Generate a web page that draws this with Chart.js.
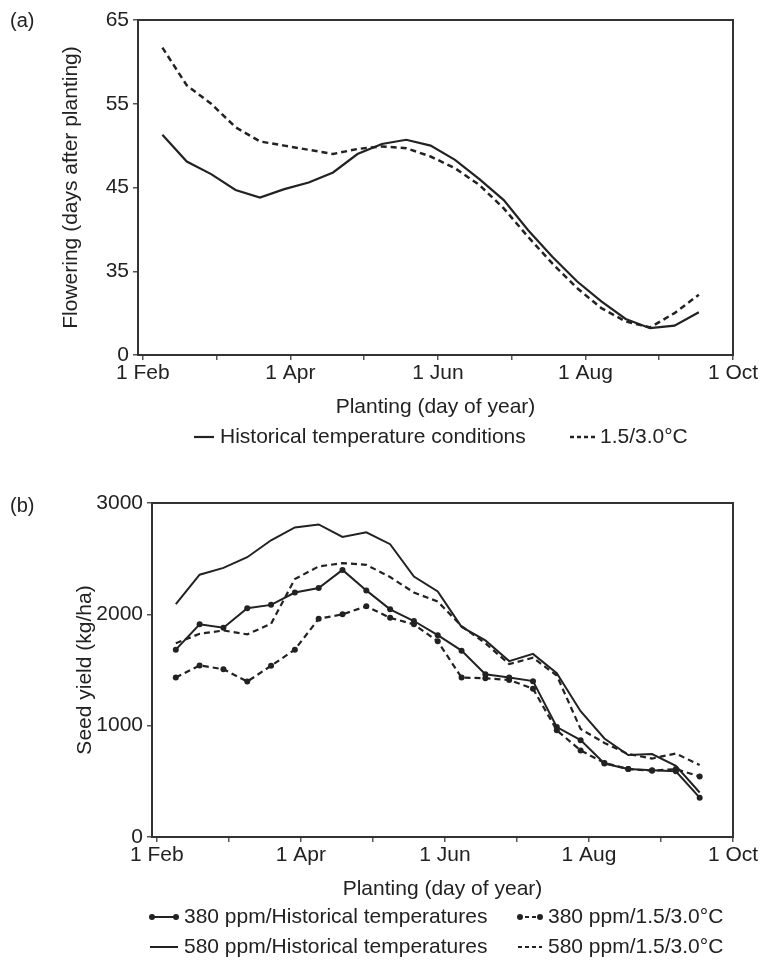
<!DOCTYPE html>
<html>
<head>
<meta charset="utf-8">
<script src="https://cdn.jsdelivr.net/npm/chart.js@4.4.1/dist/chart.umd.min.js"></script>
<style>
  html, body { margin: 0; padding: 0; background: #fff; }
  #wrap { position: relative; width: 764px; height: 967px; font-family: "Liberation Sans", Arial, sans-serif; }
  .panel { position: absolute; left: 0; width: 764px; }
  .tag { position: absolute; left: 10px; font-size: 20px; color: #222; }
</style>
</head>
<body>
<div id="wrap">
  <div class="panel" style="top:0;height:460px"><canvas id="flowering" width="764" height="460"></canvas></div>
  <div class="panel" style="top:460px;height:507px"><canvas id="yield" width="764" height="507"></canvas></div>
  <div class="tag" style="top:9px">(a)</div>
  <div class="tag" style="top:494px">(b)</div>
</div>
<script>
// planting dates, day of year
const plantingDay = [40, 50, 60, 70, 80, 90, 100, 110, 120, 130, 140, 150,
                     160, 170, 180, 190, 200, 210, 220, 230, 240, 250, 260];
const monthLabels = ['1 Feb', '', '1 Apr', '', '1 Jun', '', '1 Aug', '', '1 Oct'];

// (a) days to flowering
const floweringHist = [51.3, 48.1, 46.6, 44.7, 43.8, 44.8, 45.6, 46.8, 49.0, 50.2, 50.7, 50.0,
                       48.3, 46.0, 43.5, 39.9, 36.7, 33.8, 31.4, 29.3, 28.2, 28.5, 30.1];
const floweringWarm = [61.7, 57.2, 55.0, 52.2, 50.5, 50.0, 49.5, 49.0, 49.6, 49.9, 49.7, 48.7,
                       47.3, 45.3, 42.5, 39.1, 35.9, 33.0, 30.6, 29.0, 28.3, 30.0, 32.2];
// broken axis: the lowest tick stands for 0
const floweringTicks = [25, 35, 45, 55, 65];
const floweringTickLabels = ['0', '35', '45', '55', '65'];

// (b) seed yield, kg/ha
const yield380Hist = [1683, 1910, 1879, 2055, 2085, 2196, 2236, 2399, 2215, 2045, 1940, 1813,
                      1674, 1462, 1432, 1400, 988, 870, 660, 610, 600, 590, 353];
const yield380Warm = [1432, 1541, 1507, 1396, 1538, 1683, 1960, 2000, 2072, 1969, 1910, 1758,
                      1432, 1426, 1411, 1332, 958, 778, 665, 610, 595, 610, 544];
const yield580Hist = [2091, 2356, 2417, 2513, 2665, 2780, 2807, 2695, 2737, 2630, 2340, 2205,
                      1887, 1766, 1580, 1645, 1471, 1130, 885, 737, 745, 640, 400];
const yield580Warm = [1740, 1825, 1855, 1820, 1915, 2317, 2430, 2460, 2445, 2335, 2196, 2115,
                      1894, 1740, 1553, 1610, 1450, 970, 845, 745, 705, 750, 646];
const yieldTicks = [0, 1000, 2000, 3000];

const ink = '#222';
const font = { family: '"Liberation Sans", Arial, sans-serif', size: 21, lineHeight: 1.2 };
const DASH = [6, 4];

const pts = vals => vals.map((v, i) => ({ x: plantingDay[i], y: v }));

function line(label, vals, dashed, dots, width) {
    return {
        label: label,
        data: pts(vals),
        borderColor: ink,
        backgroundColor: ink,
        borderWidth: width,
        borderDash: dashed ? DASH : [],
        pointRadius: dots ? 3 : 0,
        pointBorderWidth: 0,
        tension: 0
    };
}

function xAxis() {
    return {
        type: 'linear', min: 30, max: 274,
        afterBuildTicks: s => { s.ticks = monthLabels.map((_, i) => ({ value: 32 + i * 30.25 })); },
        ticks: { callback: (v, i) => monthLabels[i], color: ink, font: font, padding: 1, maxRotation: 0, autoSkip: false },
        grid: { drawOnChartArea: false, tickLength: 5, color: '#555', lineWidth: 1.5 },
        border: { display: false },
        title: { display: true, text: 'Planting (day of year)', color: ink, font: font, padding: { top: 0, bottom: 5 } },
        afterFit: s => { s.height = 70; }
    };
}

function yAxis(min, max, values, labels, title) {
    return {
        min: min, max: max,
        afterBuildTicks: s => { s.ticks = values.map(v => ({ value: v })); },
        ticks: { callback: (v, i) => labels[i], color: ink, font: font, padding: 4 },
        grid: { drawOnChartArea: false, tickLength: 5, color: '#555', lineWidth: 1.5 },
        border: { display: false },
        title: { display: true, text: title, color: ink, font: font, padding: { top: 3, bottom: 0 } },
        afterFit: s => { s.width = 82; }
    };
}

// plot frame + legend samples drawn by hand
const framePlugin = {
    id: 'frame',
    afterDraw(chart) {
        const { ctx, chartArea: a } = chart;
        ctx.save();
        ctx.strokeStyle = '#333';
        ctx.lineWidth = 2;
        ctx.strokeRect(a.left, a.top, a.right - a.left, a.bottom - a.top);
        ctx.restore();
    }
};

const keyPlugin = {
    id: 'key',
    afterDraw(chart, args, opts) {
        const ctx = chart.ctx;
        ctx.save();
        ctx.font = '21px "Liberation Sans", Arial, sans-serif';
        ctx.fillStyle = ink;
        ctx.textBaseline = 'middle';
        (opts.items || []).forEach(it => {
            const ds = chart.data.datasets[it.dataset];
            ctx.strokeStyle = ink;
            ctx.lineWidth = ds.borderWidth;
            ctx.setLineDash(ds.borderDash.length ? [4, 3] : []);
            ctx.beginPath();
            ctx.moveTo(it.x, it.y);
            ctx.lineTo(it.x + it.len, it.y);
            ctx.stroke();
            ctx.setLineDash([]);
            if (ds.pointRadius) {
                [it.x + 2, it.x + it.len - 2].forEach(cx => {
                    ctx.beginPath();
                    ctx.arc(cx, it.y, 3, 0, Math.PI * 2);
                    ctx.fill();
                });
            }
            ctx.fillText(ds.label, it.x + it.len + (it.gap || 6), it.y);
        });
        ctx.restore();
    }
};

new Chart(document.getElementById('flowering'), {
    type: 'line',
    data: {
        datasets: [
            line('Historical temperature conditions', floweringHist, false, false, 2.2),
            line('1.5/3.0°C', floweringWarm, true, false, 2.5)
        ]
    },
    options: {
        responsive: false,
        animation: false,
        layout: { padding: { left: 56, right: 31, top: 20, bottom: 35 } },
        scales: {
            x: xAxis(),
            y: yAxis(25, 65, floweringTicks, floweringTickLabels, 'Flowering (days after planting)')
        },
        plugins: {
            legend: { display: false },
            tooltip: { enabled: false },
            key: { items: [
                { dataset: 0, x: 194, y: 437, len: 20 },
                { dataset: 1, x: 570, y: 437, len: 28, gap: 2 }
            ] }
        }
    },
    plugins: [framePlugin, keyPlugin]
});

new Chart(document.getElementById('yield'), {
    type: 'line',
    data: {
        datasets: [
            line('380 ppm/Historical temperatures', yield380Hist, false, true, 2),
            line('380 ppm/1.5/3.0°C', yield380Warm, true, true, 2.2),
            line('580 ppm/Historical temperatures', yield580Hist, false, false, 2),
            line('580 ppm/1.5/3.0°C', yield580Warm, true, false, 2.2)
        ]
    },
    options: {
        responsive: false,
        animation: false,
        layout: { padding: { left: 70, right: 31, top: 43, bottom: 60 } },
        scales: {
            x: xAxis(),
            y: yAxis(0, 3000, yieldTicks, yieldTicks.map(String), 'Seed yield (kg/ha)')
        },
        plugins: {
            legend: { display: false },
            tooltip: { enabled: false },
            key: { items: [
                { dataset: 0, x: 150, y: 457, len: 28 },
                { dataset: 1, x: 518, y: 457, len: 24 },
                { dataset: 2, x: 150, y: 487, len: 28 },
                { dataset: 3, x: 518, y: 487, len: 24 }
            ] }
        }
    },
    plugins: [framePlugin, keyPlugin]
});
</script>
</body>
</html>
